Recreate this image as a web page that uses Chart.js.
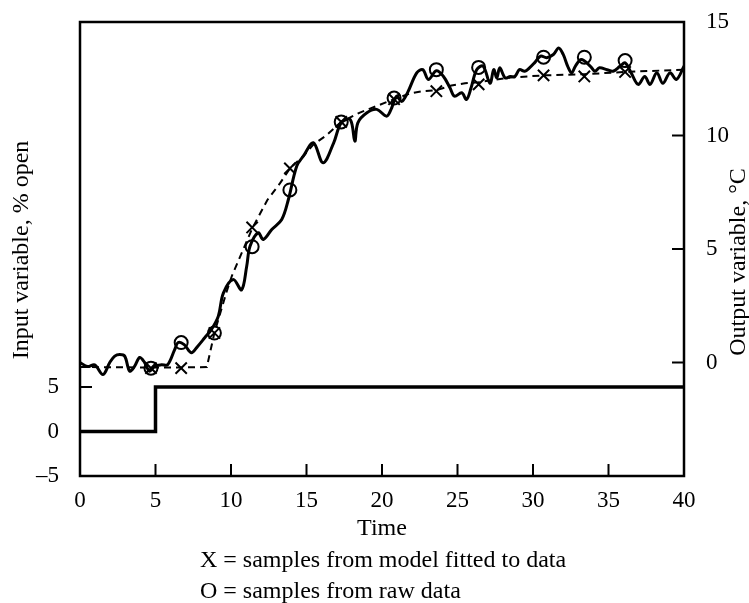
<!DOCTYPE html>
<html><head><meta charset="utf-8">
<script src="https://cdn.jsdelivr.net/npm/chart.js@4.4.0/dist/chart.umd.min.js"></script>
<style>html,body{margin:0;padding:0;background:#fff;overflow:hidden}canvas{display:block}</style>
</head><body>
<canvas id="c" width="749" height="603"></canvas>
<script>
// Output variable (raw data, solid line), °C
const outputTimes = [0,0.5,0.97,1.52,1.97,2.3,2.63,2.96,3.29,3.62,3.95,4.28,4.6,4.95,5.4,5.8,6.27,6.5,6.9,7.37,7.8,8.26,8.7,9.16,9.5,10.15,10.7,11.04,11.26,11.8,12.14,12.7,13.36,13.8,14.35,14.8,15.45,16.1,16.8,17.3,17.9,18.2,18.4,19.0,19.65,20.3,20.6,20.97,21.3,21.7,22.3,22.7,23.07,23.6,24.06,24.5,24.8,25.28,25.6,25.9,26.27,26.7,27.15,27.4,27.6,27.8,28.15,28.5,28.8,29.1,29.45,29.8,30.1,30.5,30.9,31.35,31.7,32.0,32.3,32.56,32.8,33.2,33.8,34.1,34.4,34.9,35.3,35.76,36.1,36.5,36.97,37.4,37.75,38.2,38.6,39.07,39.5,40];
const outputValues = [0,-0.18,-0.1,-0.53,0,0.28,0.35,0.28,-0.38,-0.16,0.22,0,-0.38,-0.16,-0.1,-0.1,0.57,0.88,0.79,0.43,0.72,1.09,1.45,2.04,3.07,3.66,3.2,4.24,5.12,5.71,5.42,5.86,6.3,7.18,8.65,9.1,9.68,8.8,9.68,10.56,10.7,9.75,10.56,11.0,11.15,10.85,11.15,11.73,11.5,11.9,12.76,12.9,12.47,12.85,12.61,12.1,11.73,11.88,11.59,12.1,12.9,13.05,12.3,12.9,12.54,12.98,12.54,12.6,12.6,12.9,12.83,13.0,13.2,13.5,13.43,13.57,13.86,13.57,13.05,12.76,13.05,13.35,13.05,12.83,12.98,12.9,12.83,13.05,13.2,12.76,12.25,12.6,12.25,12.76,12.3,12.76,12.47,13.05];
// Model fitted to data (dashed line), °C
const modelTimes = [0,4.7,6.7,8.4,8.6,8.9,9.7,10.05,11.4,12.4,13.25,13.9,14.8,15.45,16.3,17.3,18.5,19.65,20.8,21.85,22.7,23.6,24.6,25.5,26.4,28.5,30.7,33.4,36.1,40];
const modelValues = [-0.2,-0.22,-0.22,-0.2,0.4,1.3,3.1,3.8,5.9,7.15,7.9,8.55,9.1,9.6,10.0,10.6,11.0,11.3,11.6,11.85,11.95,12.0,12.2,12.3,12.35,12.55,12.65,12.7,12.8,12.9];
// Sample instants and sampled values
const sampleTimes = [4.7,6.7,8.9,11.4,13.9,17.3,20.8,23.6,26.4,30.7,33.4,36.1];
const modelSamples = [-0.25,-0.25,1.3,5.95,8.55,10.6,11.6,11.95,12.25,12.65,12.6,12.8];
const rawSamples = [-0.25,0.88,1.3,5.1,7.6,10.6,11.65,12.9,13.0,13.45,13.45,13.3];
// Input variable (% open)
const inputTimes = [0,5,40];
const inputValues = [0,5,5];
// Tick labels
const xTicks = [0,5,10,15,20,25,30,35,40];
const leftTicks = [-5,0,5];
const rightTicks = [0,5,10,15];
const xTitle = 'Time';
const leftTitle = 'Input variable, % open';
const rightTitle = 'Output variable, °C';
const notes = ['X = samples from model fitted to data', 'O = samples from raw data'];

const pts = (xs, ys) => xs.map((x, i) => ({x: x, y: ys[i]}));
const FONT = '"Liberation Serif", "Times New Roman", serif';
const fmt = v => String(v).replace('-', '\u2013');

const framePlugin = {
  id: 'frame',
  afterDraw(chart) {
    const {ctx, chartArea: a, scales} = chart;
    ctx.save();
    ctx.strokeStyle = '#000';
    ctx.lineWidth = 2.5;
    ctx.strokeRect(a.left, a.top, a.right - a.left, a.bottom - a.top);
    ctx.lineWidth = 2;
    const T = 12;
    ctx.beginPath();
    xTicks.forEach(v => { const p = scales.x.getPixelForValue(v); ctx.moveTo(p, a.bottom); ctx.lineTo(p, a.bottom - T); });
    leftTicks.forEach(v => { const p = scales.yL.getPixelForValue(v); ctx.moveTo(a.left, p); ctx.lineTo(a.left + T, p); });
    rightTicks.forEach(v => { const p = scales.yR.getPixelForValue(v); ctx.moveTo(a.right, p); ctx.lineTo(a.right - T, p); });
    ctx.stroke();
    ctx.fillStyle = '#000';
    ctx.font = '24px ' + FONT;
    ctx.textBaseline = 'alphabetic';
    ctx.textAlign = 'center';
    ctx.fillText(xTitle, (a.left + a.right) / 2, 535);
    ctx.textAlign = 'left';
    ctx.fillText(notes[0], 200, 567);
    ctx.fillText(notes[1], 200, 598);
    ctx.textAlign = 'center';
    ctx.textBaseline = 'middle';
    ctx.save(); ctx.translate(22, 250); ctx.rotate(-Math.PI / 2); ctx.fillText(leftTitle, 0, 0); ctx.restore();
    ctx.save(); ctx.translate(739, 262); ctx.rotate(-Math.PI / 2); ctx.fillText(rightTitle, 0, 0); ctx.restore();
    ctx.restore();
  }
};

const tickFont = {family: FONT, size: 23};

new Chart(document.getElementById('c'), {
  type: 'line',
  data: {
    datasets: [
      {label: 'X samples', data: pts(sampleTimes, modelSamples), yAxisID: 'yR', showLine: false,
       pointStyle: 'crossRot', pointRadius: 8, borderColor: '#000', borderWidth: 2, backgroundColor: 'transparent'},
      {label: 'O samples', data: pts(sampleTimes, rawSamples), yAxisID: 'yR', showLine: false,
       pointStyle: 'circle', pointRadius: 6.5, borderColor: '#000', borderWidth: 2, backgroundColor: 'rgba(0,0,0,0)'},
      {label: 'Output', data: pts(outputTimes, outputValues), yAxisID: 'yR', borderColor: '#000', borderWidth: 3,
       pointRadius: 0, tension: 0.35, borderJoinStyle: 'round', borderCapStyle: 'round', fill: false},
      {label: 'Model', data: pts(modelTimes, modelValues), yAxisID: 'yR', borderColor: '#000', borderWidth: 2,
       borderDash: [7, 5], pointRadius: 0, tension: 0, fill: false},
      {label: 'Input', data: pts(inputTimes, inputValues), yAxisID: 'yL', borderColor: '#000', borderWidth: 3.5,
       stepped: true, pointRadius: 0, fill: false}
    ]
  },
  options: {
    responsive: false,
    animation: false,
    devicePixelRatio: 1,
    layout: {padding: {top: 22, left: 0, right: 0, bottom: 0}},
    plugins: {legend: {display: false}, tooltip: {enabled: false}},
    scales: {
      x: {type: 'linear', position: 'bottom', min: 0, max: 40,
          grid: {display: false}, border: {display: false},
          ticks: {stepSize: 5, font: tickFont, color: '#000', padding: 3, maxRotation: 0},
          afterFit: s => { s.height = 127; s.paddingLeft = 0; s.paddingRight = 0; }},
      yL: {type: 'linear', position: 'left', min: -5, max: 46,
           grid: {display: false}, border: {display: false},
           ticks: {font: tickFont, color: '#000', padding: 13, callback: fmt},
           afterBuildTicks: s => { s.ticks = leftTicks.map(v => ({value: v})); },
           afterFit: s => { s.width = 80; s.paddingTop = 0; s.paddingBottom = 0; }},
      yR: {type: 'linear', position: 'right', min: -5, max: 15,
           grid: {display: false}, border: {display: false},
           ticks: {font: tickFont, color: '#000', padding: 14, callback: fmt},
           afterBuildTicks: s => { s.ticks = rightTicks.map(v => ({value: v})); },
           afterFit: s => { s.width = 65; s.paddingTop = 0; s.paddingBottom = 0; }}
    }
  },
  plugins: [framePlugin]
});
</script>
</body></html>
